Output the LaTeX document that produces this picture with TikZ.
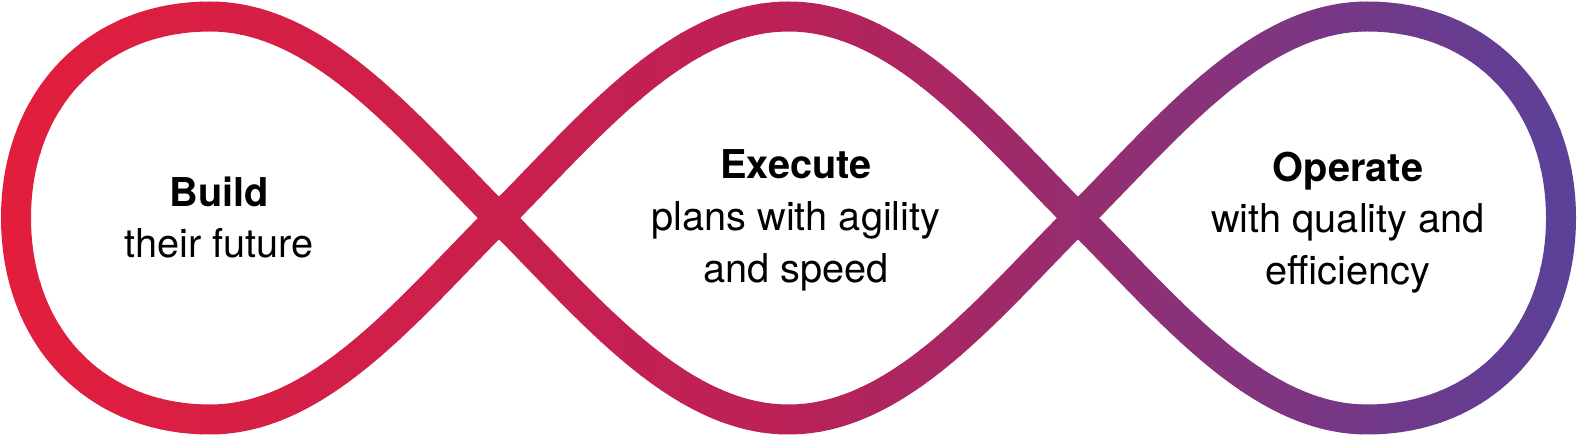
\documentclass[tikz,border=0pt]{standalone}
\usepackage{fontspec}
\setmainfont{TeX Gyre Heros}
\definecolor{loopred}{HTML}{E31E3C}
\definecolor{loopmid}{HTML}{BB2157}
\definecolor{loopviolet}{HTML}{5A4199}
\newcommand\loopcurve{(499,218) .. controls (409,128) and (320,16.5) .. (210,16.5)
  .. controls (95,16.5) and (16,100) .. (16,218)
  .. controls (16,336) and (95,419.5) .. (210,419.5)
  .. controls (320,419.5) and (409,308) .. (499,218)
  .. controls (589,128) and (678,16.5) .. (788.5,16.5)
  .. controls (899,16.5) and (988,128) .. (1078,218)
  .. controls (1168,308) and (1257,419.5) .. (1367,419.5)
  .. controls (1482,419.5) and (1561,336) .. (1561,218)
  .. controls (1561,100) and (1482,16.5) .. (1367,16.5)
  .. controls (1257,16.5) and (1168,128) .. (1078,218)
  .. controls (988,308) and (899,419.5) .. (788.5,419.5)
  .. controls (678,419.5) and (589,308) .. (499,218) -- cycle}
\begin{document}
\begin{tikzpicture}[x=0.1mm,y=-0.1mm,line join=round,
  head/.style={font=\fontsize{11.3}{14.8}\selectfont\bfseries,anchor=base},
  body/.style={font=\fontsize{11.3}{14.8}\selectfont,align=center,anchor=base}]
\useasboundingbox (0,0) rectangle (1578,436);
\foreach \i in {0,...,78}{
\pgfmathsetmacro{\xa}{20*\i}
\pgfmathsetmacro{\xm}{20*\i+10}
\pgfmathtruncatemacro{\inleft}{\xm<789}
\ifnum\inleft=1
\pgfmathtruncatemacro{\pct}{(789-\xm)/7.89}
\colorlet{stripcol}{loopred!\pct!loopmid}
\else
\pgfmathtruncatemacro{\pct}{(1578-\xm)/7.89}
\colorlet{stripcol}{loopmid!\pct!loopviolet}
\fi
\begin{scope}
\clip (\xa,-5) rectangle (\xa+21,441);
\draw[stripcol,line width=3mm] \loopcurve;
\end{scope}
}
\foreach \name/\x/\y/\yb/\head/\body in {build/219/207/258/Build/{their future},execute/796/179/283/Execute/{plans with agility\\and speed},operate/1348/182/285/Operate/{with quality and\\efficiency}}{
\node[head] (\name) at (\x,\y) {\head};
\node[body] (\name-text) at (\x,\yb) {\body};
}
\end{tikzpicture}
\end{document}
